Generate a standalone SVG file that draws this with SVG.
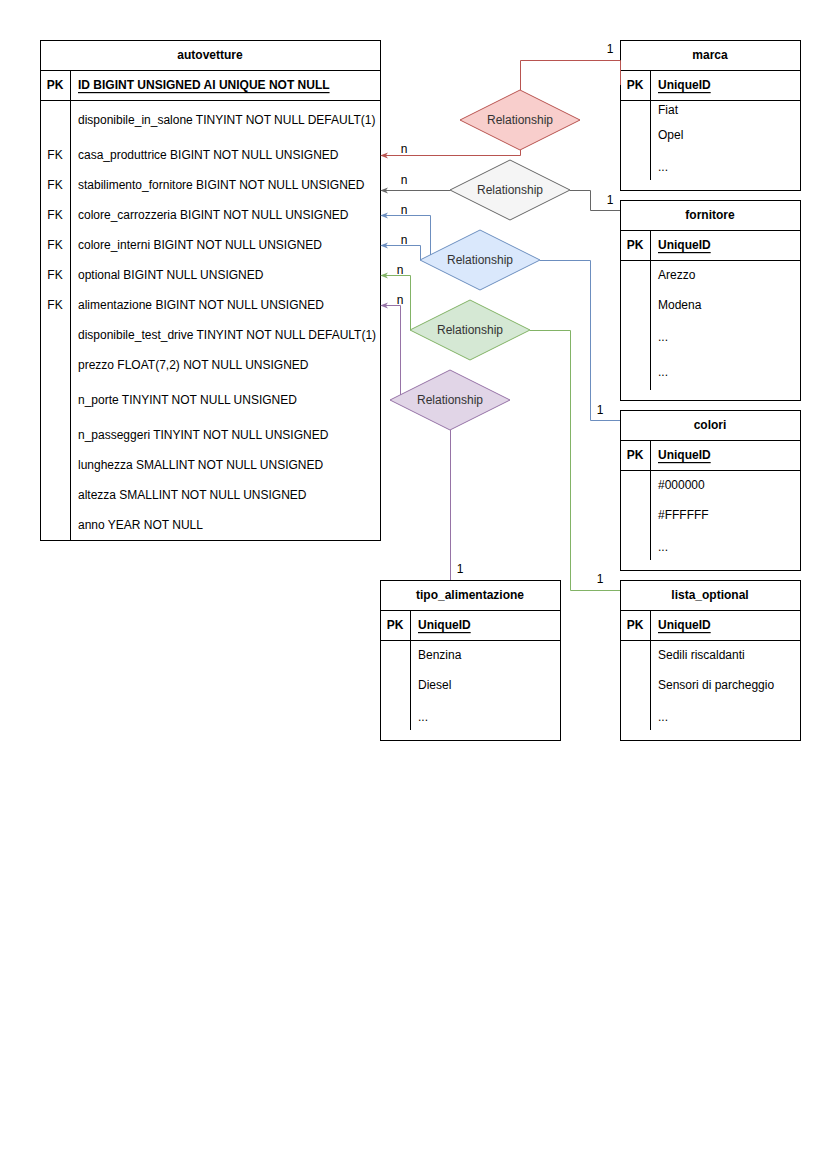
<svg xmlns="http://www.w3.org/2000/svg" width="827" height="1169" viewBox="0 0 827 1169">
  <style>
    text { font-family: "Liberation Sans", Arial, sans-serif; font-size: 12px; fill: #000; dominant-baseline: central; }
    .title { font-weight: bold; text-anchor: middle; }
    .pk { font-weight: bold; text-anchor: middle; }
    .key { font-weight: bold; text-decoration: underline; }
    .fk { text-anchor: middle; }
    .rel { text-anchor: middle; fill: #333; }
    .tbl { fill: #fff; stroke: #000; stroke-width: 1; }
    .ln { stroke: #000; stroke-width: 1; fill: none; }
    .edge { fill: none; stroke-width: 1; }
    .lbl { text-anchor: middle; fill: #000; }
  </style>
  <defs>
    <marker id="arrRed" viewBox="0 0 10 10" refX="9" refY="5" markerWidth="8" markerHeight="8" orient="auto"><path d="M0,1 L10,5 L0,9 L3,5 Z" fill="#b85450"/></marker>
    <marker id="arrGray" viewBox="0 0 10 10" refX="9" refY="5" markerWidth="8" markerHeight="8" orient="auto"><path d="M0,1 L10,5 L0,9 L3,5 Z" fill="#666666"/></marker>
    <marker id="arrBlue" viewBox="0 0 10 10" refX="9" refY="5" markerWidth="8" markerHeight="8" orient="auto"><path d="M0,1 L10,5 L0,9 L3,5 Z" fill="#6c8ebf"/></marker>
    <marker id="arrGreen" viewBox="0 0 10 10" refX="9" refY="5" markerWidth="8" markerHeight="8" orient="auto"><path d="M0,1 L10,5 L0,9 L3,5 Z" fill="#82b366"/></marker>
    <marker id="arrPurple" viewBox="0 0 10 10" refX="9" refY="5" markerWidth="8" markerHeight="8" orient="auto"><path d="M0,1 L10,5 L0,9 L3,5 Z" fill="#9673a6"/></marker>
  </defs>
  <rect width="827" height="1169" fill="#fff"/>

  <!-- relationship diamonds -->
  <g id="rel-marca">
    <polygon points="520,90 580,120 520,150 460,120" fill="#f8cecc" stroke="#b85450"/>
    <text class="rel" x="520" y="120">Relationship</text>
  </g>
  <g id="rel-fornitore">
    <polygon points="510,160 570,190 510,220 450,190" fill="#f5f5f5" stroke="#666666"/>
    <text class="rel" x="510" y="190">Relationship</text>
  </g>
  <g id="rel-colori">
    <polygon points="480,230 540,260 480,290 420,260" fill="#dae8fc" stroke="#6c8ebf"/>
    <text class="rel" x="480" y="260">Relationship</text>
  </g>
  <g id="rel-optional">
    <polygon points="470,300 530,330 470,360 410,330" fill="#d5e8d4" stroke="#82b366"/>
    <text class="rel" x="470" y="330">Relationship</text>
  </g>
  <g id="rel-alimentazione">
    <polygon points="450,370 510,400 450,430 390,400" fill="#e1d5e7" stroke="#9673a6"/>
    <text class="rel" x="450" y="400">Relationship</text>
  </g>

  <!-- autovetture table -->
  <g id="autovetture">
    <rect class="tbl" x="40.5" y="40.5" width="340" height="500"/>
    <line class="ln" x1="40.5" y1="70.5" x2="380.5" y2="70.5"/>
    <line class="ln" x1="40.5" y1="100.5" x2="380.5" y2="100.5"/>
    <line class="ln" x1="70.5" y1="70.5" x2="70.5" y2="540.5"/>
    <text class="title" x="210" y="55">autovetture</text>
    <text class="pk" x="55" y="85">PK</text>
    <text class="key" x="78" y="85">ID BIGINT UNSIGNED AI UNIQUE NOT NULL</text>
    <text x="78" y="120">disponibile_in_salone TINYINT NOT NULL DEFAULT(1)</text>
    <text class="fk" x="55" y="155">FK</text>
    <text x="78" y="155">casa_produttrice BIGINT NOT NULL UNSIGNED</text>
    <text class="fk" x="55" y="185">FK</text>
    <text x="78" y="185">stabilimento_fornitore BIGINT NOT NULL UNSIGNED</text>
    <text class="fk" x="55" y="215">FK</text>
    <text x="78" y="215">colore_carrozzeria BIGINT NOT NULL UNSIGNED</text>
    <text class="fk" x="55" y="245">FK</text>
    <text x="78" y="245">colore_interni BIGINT NOT NULL UNSIGNED</text>
    <text class="fk" x="55" y="275">FK</text>
    <text x="78" y="275">optional BIGINT NULL UNSIGNED</text>
    <text class="fk" x="55" y="305">FK</text>
    <text x="78" y="305">alimentazione BIGINT NOT NULL UNSIGNED</text>
    <text x="78" y="335">disponibile_test_drive TINYINT NOT NULL DEFAULT(1)</text>
    <text x="78" y="365">prezzo FLOAT(7,2) NOT NULL UNSIGNED</text>
    <text x="78" y="400">n_porte TINYINT NOT NULL UNSIGNED</text>
    <text x="78" y="435">n_passeggeri TINYINT NOT NULL UNSIGNED</text>
    <text x="78" y="465">lunghezza SMALLINT NOT NULL UNSIGNED</text>
    <text x="78" y="495">altezza SMALLINT NOT NULL UNSIGNED</text>
    <text x="78" y="525">anno YEAR NOT NULL</text>
  </g>

  <!-- marca table -->
  <g id="marca">
    <rect class="tbl" x="620.5" y="40.5" width="180" height="150"/>
    <line class="ln" x1="620.5" y1="70.5" x2="800.5" y2="70.5"/>
    <line class="ln" x1="620.5" y1="100.5" x2="800.5" y2="100.5"/>
    <line class="ln" x1="650.5" y1="70.5" x2="650.5" y2="180"/>
    <text class="title" x="710" y="55">marca</text>
    <text class="pk" x="635" y="85">PK</text>
    <text class="key" x="658" y="85">UniqueID</text>
    <text x="658" y="110">Fiat</text>
    <text x="658" y="135">Opel</text>
    <text x="658" y="167">...</text>
  </g>

  <!-- fornitore table -->
  <g id="fornitore">
    <rect class="tbl" x="620.5" y="200.5" width="180" height="200"/>
    <line class="ln" x1="620.5" y1="230.5" x2="800.5" y2="230.5"/>
    <line class="ln" x1="620.5" y1="260.5" x2="800.5" y2="260.5"/>
    <line class="ln" x1="650.5" y1="230.5" x2="650.5" y2="390"/>
    <text class="title" x="710" y="215">fornitore</text>
    <text class="pk" x="635" y="245">PK</text>
    <text class="key" x="658" y="245">UniqueID</text>
    <text x="658" y="275">Arezzo</text>
    <text x="658" y="305">Modena</text>
    <text x="658" y="337">...</text>
    <text x="658" y="372">...</text>
  </g>

  <!-- colori table -->
  <g id="colori">
    <rect class="tbl" x="620.5" y="410.5" width="180" height="160"/>
    <line class="ln" x1="620.5" y1="440.5" x2="800.5" y2="440.5"/>
    <line class="ln" x1="620.5" y1="470.5" x2="800.5" y2="470.5"/>
    <line class="ln" x1="650.5" y1="440.5" x2="650.5" y2="560"/>
    <text class="title" x="710" y="425">colori</text>
    <text class="pk" x="635" y="455">PK</text>
    <text class="key" x="658" y="455">UniqueID</text>
    <text x="658" y="485">#000000</text>
    <text x="658" y="515">#FFFFFF</text>
    <text x="658" y="547">...</text>
  </g>

  <!-- tipo_alimentazione table -->
  <g id="tipo_alimentazione">
    <rect class="tbl" x="380.5" y="580.5" width="180" height="160"/>
    <line class="ln" x1="380.5" y1="610.5" x2="560.5" y2="610.5"/>
    <line class="ln" x1="380.5" y1="640.5" x2="560.5" y2="640.5"/>
    <line class="ln" x1="410.5" y1="610.5" x2="410.5" y2="730"/>
    <text class="title" x="470" y="595">tipo_alimentazione</text>
    <text class="pk" x="395" y="625">PK</text>
    <text class="key" x="418" y="625">UniqueID</text>
    <text x="418" y="655">Benzina</text>
    <text x="418" y="685">Diesel</text>
    <text x="418" y="717">...</text>
  </g>

  <!-- lista_optional table -->
  <g id="lista_optional">
    <rect class="tbl" x="620.5" y="580.5" width="180" height="160"/>
    <line class="ln" x1="620.5" y1="610.5" x2="800.5" y2="610.5"/>
    <line class="ln" x1="620.5" y1="640.5" x2="800.5" y2="640.5"/>
    <line class="ln" x1="650.5" y1="610.5" x2="650.5" y2="730"/>
    <text class="title" x="710" y="595">lista_optional</text>
    <text class="pk" x="635" y="625">PK</text>
    <text class="key" x="658" y="625">UniqueID</text>
    <text x="658" y="655">Sedili riscaldanti</text>
    <text x="658" y="685">Sensori di parcheggio</text>
    <text x="658" y="717">...</text>
  </g>

  <!-- connectors, drawn on top of the tables -->
  <g id="connectors">
    <path class="edge" stroke="#b85450" d="M620.5,85 L620.5,60.5 L520.5,60.5 L520.5,90"/>
    <path class="edge" stroke="#b85450" d="M520.5,150 L520.5,155.5 L381,155.5" marker-end="url(#arrRed)"/>
    <path class="edge" stroke="#666666" d="M450,190.5 L381,190.5" marker-end="url(#arrGray)"/>
    <path class="edge" stroke="#666666" d="M570,190.5 L590.5,190.5 L590.5,210.5 L620,210.5"/>
    <path class="edge" stroke="#6c8ebf" d="M430.5,255 L430.5,215.5 L381,215.5" marker-end="url(#arrBlue)"/>
    <path class="edge" stroke="#6c8ebf" d="M420.5,260 L420.5,245.5 L381,245.5" marker-end="url(#arrBlue)"/>
    <path class="edge" stroke="#6c8ebf" d="M540,260.5 L590.5,260.5 L590.5,420.5 L620,420.5"/>
    <path class="edge" stroke="#82b366" d="M410.5,330 L410.5,275.5 L381,275.5" marker-end="url(#arrGreen)"/>
    <path class="edge" stroke="#82b366" d="M530,330.5 L570.5,330.5 L570.5,590.5 L620,590.5"/>
    <path class="edge" stroke="#9673a6" d="M400.5,395 L400.5,305.5 L381,305.5" marker-end="url(#arrPurple)"/>
    <path class="edge" stroke="#9673a6" d="M450.5,430 L450.5,580"/>
    <text class="lbl" x="404" y="149">n</text>
    <text class="lbl" x="610" y="49">1</text>
    <text class="lbl" x="404" y="180">n</text>
    <text class="lbl" x="610" y="200">1</text>
    <text class="lbl" x="404" y="210">n</text>
    <text class="lbl" x="404" y="240">n</text>
    <text class="lbl" x="600" y="410">1</text>
    <text class="lbl" x="400" y="270">n</text>
    <text class="lbl" x="600" y="579">1</text>
    <text class="lbl" x="400" y="300">n</text>
    <text class="lbl" x="460" y="569">1</text>
  </g>
</svg>
